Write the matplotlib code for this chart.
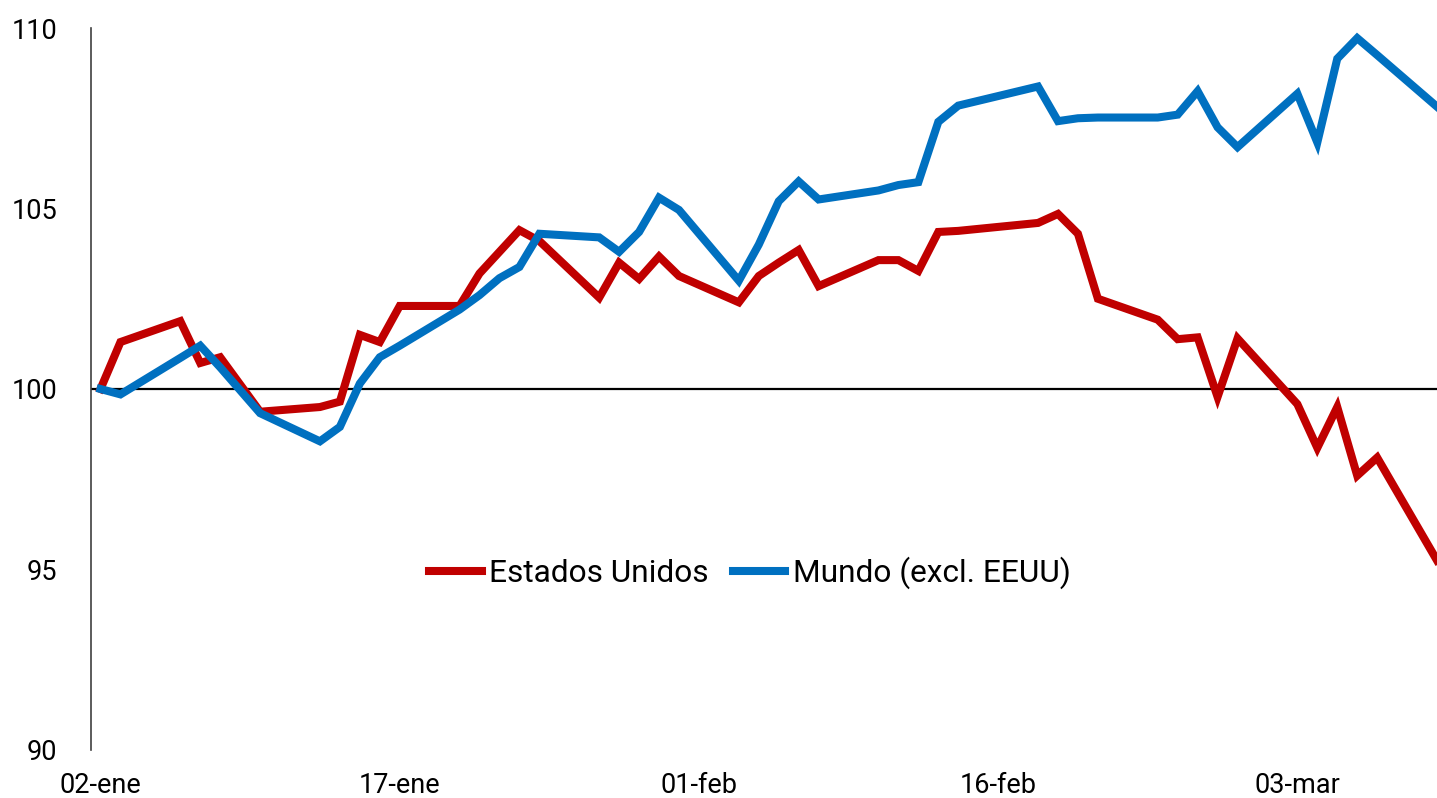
import matplotlib
matplotlib.use("Agg")
import matplotlib.pyplot as plt
import numpy as np
import pandas as pd

plt.rcParams['font.family'] = ['Roboto', 'DejaVu Sans']

dates = ["2025-01-02", "2025-01-03", "2025-01-06", "2025-01-07", "2025-01-08",
         "2025-01-10", "2025-01-13", "2025-01-14", "2025-01-15", "2025-01-16",
         "2025-01-17", "2025-01-20", "2025-01-21", "2025-01-22", "2025-01-23",
         "2025-01-24", "2025-01-27", "2025-01-28", "2025-01-29", "2025-01-30",
         "2025-01-31", "2025-02-03", "2025-02-04", "2025-02-05", "2025-02-06",
         "2025-02-07", "2025-02-10", "2025-02-11", "2025-02-12", "2025-02-13",
         "2025-02-14", "2025-02-18", "2025-02-19", "2025-02-20", "2025-02-21",
         "2025-02-24", "2025-02-25", "2025-02-26", "2025-02-27", "2025-02-28",
         "2025-03-03", "2025-03-04", "2025-03-05", "2025-03-06", "2025-03-07",
         "2025-03-10"]

estados_unidos = [100.0, 101.3, 101.88, 100.72, 100.88,
                  99.37, 99.5, 99.65, 101.5, 101.3,
                  102.3, 102.3, 103.2, 103.8, 104.4,
                  104.1, 102.53, 103.5, 103.05, 103.67,
                  103.13, 102.4, 103.13, 103.5, 103.85,
                  102.85, 103.57, 103.57, 103.27, 104.35,
                  104.38, 104.6, 104.85, 104.3, 102.5,
                  101.92, 101.38, 101.43, 99.78, 101.4,
                  99.58, 98.37, 99.5, 97.6, 98.1,
                  95.25]

mundo = [100.0, 99.85, 100.86, 101.2, 100.6,
         99.33, 98.55, 98.95, 100.15, 100.88,
         101.2, 102.2, 102.6, 103.07, 103.38,
         104.3, 104.2, 103.8, 104.35, 105.3,
         104.96, 103.0, 104.0, 105.2, 105.75,
         105.25, 105.5, 105.65, 105.73, 107.4,
         107.85, 108.38, 107.42, 107.5, 107.52,
         107.52, 107.6, 108.25, 107.25, 106.7,
         108.18, 106.83, 109.15, 109.72, 109.25,
         107.82]

tick_dates = ["2025-01-02", "2025-01-17", "2025-02-01", "2025-02-16", "2025-03-03"]
tick_labels = ["02-ene", "17-ene", "01-feb", "16-feb", "03-mar"]
y_ticks = [90, 95, 100, 105, 110]

x = pd.to_datetime(dates)
fig = plt.figure(figsize=(14.37, 7.98), dpi=100)
ax = fig.add_axes([0.063, 0.0602, 0.937, 0.9047])

ax.axhline(100, color='black', lw=1.6, zorder=1)
ax.plot(x, estados_unidos, color='#C00000', lw=5.8, solid_joinstyle='miter',
        label='Estados Unidos', zorder=3)
ax.plot(x, mundo, color='#0070C0', lw=5.8, solid_joinstyle='miter',
        label='Mundo (excl. EEUU)', zorder=3)

ax.set_ylim(90, 110)
ax.set_xlim(pd.Timestamp("2025-01-01 12:00"), pd.Timestamp("2025-03-10 00:00"))
ax.set_yticks(y_ticks)
ax.set_yticklabels([str(v) for v in y_ticks])
ax.set_xticks(pd.to_datetime(tick_dates))
ax.set_xticklabels(tick_labels)

for s in ['top', 'right', 'bottom']:
    ax.spines[s].set_visible(False)
ax.spines['left'].set_color('#404040')
ax.spines['left'].set_linewidth(1.2)
ax.tick_params(axis='both', length=0, labelsize=19.5, colors='black')
ax.tick_params(axis='y', pad=24)
ax.tick_params(axis='x', pad=16)

leg = fig.legend(loc='center', bbox_to_anchor=(750 / 1437, 1 - 573 / 798),
                 ncol=2, frameon=False, fontsize=22.8, handlelength=1.65,
                 handletextpad=0.25, columnspacing=0.75)

fig.savefig("out.png", dpi=100)
